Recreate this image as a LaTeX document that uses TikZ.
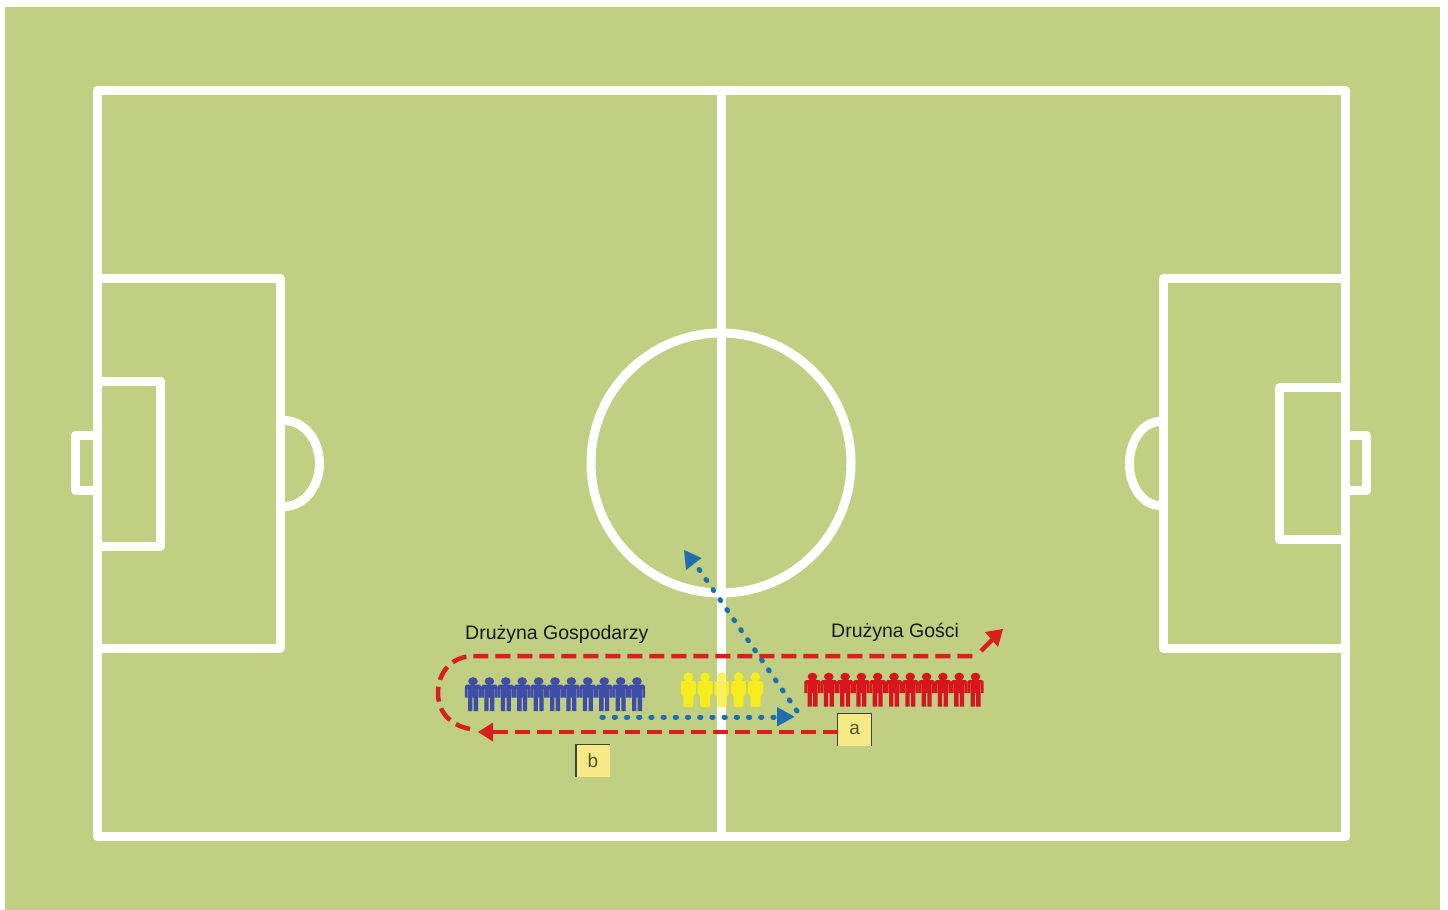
\documentclass[tikz,border=0pt]{standalone}
\usepackage{fontspec}
\setmainfont{Liberation Sans}
\usetikzlibrary{arrows.meta}
\definecolor{grass}{HTML}{C0CF81}
\definecolor{homeblue}{HTML}{3F4DA6}
\definecolor{awayred}{HTML}{D8141C}
\definecolor{refyellow}{HTML}{F7EC1E}
\definecolor{dotblue}{HTML}{1F6FAE}
\definecolor{dashred}{HTML}{D81E1E}
\definecolor{tagfill}{HTML}{F6E987}
\definecolor{tagtext}{HTML}{55552A}
\tikzset{
  x=1pt,y=-1pt,
  pitchline/.style={draw=white,line width=9pt,line join=round,line cap=round},
  thinline/.style={draw=white,line width=9pt,line join=round,line cap=butt},
  reddash/.style={draw=dashred,line width=4.5pt,dash pattern=on 15pt off 7pt},
  bluedot/.style={draw=dotblue,line width=5pt,line cap=round,dash pattern=on 1.3pt off 10.9pt},
  tagbox/.style={fill=tagfill,minimum width=33.5pt,minimum height=32pt,inner sep=0pt,font=\fontsize{19}{19}\selectfont,text=tagtext},
  teamlabel/.style={font=\fontsize{19.5}{20}\selectfont,text=black!90,inner sep=0pt},
  tagedge/.style={draw=black!75,line width=1.4pt}
}
\newcommand{\figman}[3]{%
  \fill[#3] (#1,#2+3.7) ellipse[x radius=4.8,y radius=4];
  \fill[#3] (#1-1.8,#2+6) rectangle (#1+1.8,#2+8);
  \fill[#3] (#1-6.5,#2+7) -- (#1+6.5,#2+7) -- (#1+8.2,#2+9) -- (#1+8.2,#2+20) -- (#1+5.5,#2+20) -- (#1+5.5,#2+11)
     -- (#1+5,#2+11) -- (#1+5,#2+33.5) -- (#1+0.7,#2+33.5) -- (#1+0.7,#2+20) -- (#1-0.7,#2+20) -- (#1-0.7,#2+33.5)
     -- (#1-5,#2+33.5) -- (#1-5,#2+11) -- (#1-5.5,#2+11) -- (#1-5.5,#2+20) -- (#1-8.2,#2+20) -- (#1-8.2,#2+9) -- cycle;
}
\newcommand{\figsoft}[3]{%
  \fill[#3] (#1,#2+5) circle (4.8);
  \fill[#3,rounded corners=2pt] (#1-7.5,#2+9) -- (#1+7.5,#2+9) -- (#1+7.5,#2+23) -- (#1+5,#2+23) -- (#1+5,#2+35) -- (#1-5,#2+35) -- (#1-5,#2+23) -- (#1-7.5,#2+23) -- cycle;
}
\begin{document}
\begin{tikzpicture}
\useasboundingbox (0,0) rectangle (1448,910);
\fill[white] (0,0) rectangle (1448,910);
\fill[grass] (5,7) rectangle (1440,910);
% pitch
\draw[pitchline] (97,90) rectangle (1345,836.5);
\draw[pitchline,line cap=butt] (721,90) -- (721,836.5);
\draw[pitchline] (721,463) circle (130);
% left end
\draw[thinline] (97,278) -- (280,278) -- (280,648) -- (97,648);
\draw[thinline] (97,381) -- (160.5,381) -- (160.5,546) -- (97,546);
\draw[thinline] (97,435.5) -- (75.5,435.5) -- (75.5,490.5) -- (97,490.5);
\draw[thinline] (284,420.5) arc[start angle=-90,end angle=90,x radius=35.5,y radius=43];
% right end
\draw[thinline] (1345,278) -- (1163,278) -- (1163,648) -- (1345,648);
\draw[thinline] (1345,387.5) -- (1279.5,387.5) -- (1279.5,539.5) -- (1345,539.5);
\draw[thinline] (1345,435) -- (1366,435) -- (1366,490.5) -- (1345,490.5);
\draw[thinline] (1160,421.5) arc[start angle=270,end angle=90,x radius=30.5,y radius=42];
% players
\foreach \i in {0,...,10} {\pgfmathsetmacro{\px}{473+16.4*\i}\figman{\px}{677.5}{homeblue}}
\foreach \i in {0,...,4} {\pgfmathsetmacro{\px}{688.3+16.8*\i}\figsoft{\px}{672}{refyellow}}
\foreach \i in {0,...,10} {\pgfmathsetmacro{\px}{812.5+16.3*\i}\figman{\px}{673}{awayred}}
\fill[white,opacity=.3] (716.5,672) rectangle (725.5,707);
% labels
\node[teamlabel,anchor=west] (home) at (465,634.5) {Drużyna Gospodarzy};
\node[teamlabel,anchor=west] (away) at (831,632.5) {Drużyna Gości};
\node[tagbox] (taga) at (854.7,729.7) {a};
\node[tagbox] (tagb) at (593,760.5) {b};
\draw[tagedge] (taga.south west) -- (taga.north west) -- (taga.north east) -- (taga.south east);
\draw[tagedge] (tagb.south west) -- (tagb.north west) -- (tagb.north east);
% connectors
\coordinate (backtip) at (478,732);
\coordinate (loopstart) at (470,729);
\coordinate (topend) at (975,656);
\coordinate (toptip) at (1003,629);
\coordinate (stemstart) at (981,651);
\coordinate (dotstart) at (602,717);
\coordinate (dotturn) at (794.5,716.7);
\coordinate (dotfar) at (797,711);
\coordinate (dottip) at (684,550);
\draw[reddash] (taga.west |- backtip) -- (490,732);
\fill[dashred] (backtip) -- (493,722.5) -- (493,741.5) -- cycle;
\draw[reddash] (loopstart) .. controls (450,725) and (438,712) .. (438,693) .. controls (438,672) and (452,656) .. (474,656) -- (topend);
\draw[draw=dashred,line width=4.5pt] (stemstart) -- (993,639);
\fill[dashred] (toptip) -- (998,647) -- (985,632) -- cycle;
\draw[bluedot] (dotstart) -- (780,717);
\fill[dotblue] (dotturn) -- (777,707) -- (777,726.5) -- cycle;
\draw[bluedot] (dotfar) -- (696,565);
\fill[dotblue] (dottip) -- (701.5,558) -- (686,570) -- cycle;
\end{tikzpicture}
\end{document}
